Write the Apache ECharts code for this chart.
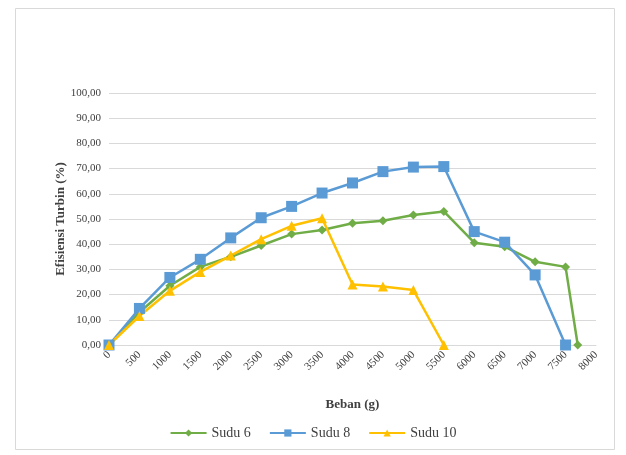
<!DOCTYPE html>
<html>
<head>
<meta charset="utf-8">
<script src="https://cdn.jsdelivr.net/npm/echarts@6/dist/echarts.min.js"></script>
<style>
  html, body { margin: 0; padding: 0; background: #fff; }
  #chart { width: 626px; height: 455px; }
</style>
</head>
<body>
<div id="chart"></div>
<script>
// Load (g) vs turbine efficiency (%) for three blade counts
const loadSudu6 = [0, 500, 1000, 1500, 2000, 2500, 3000, 3500, 4000, 4500, 5000, 5500, 6000, 6500, 7000, 7500, 7700];
const effSudu6  = [0, 13, 23.5, 31, 35, 39.5, 44, 45.6, 48.3, 49.3, 51.6, 53, 40.6, 39, 33, 31, 0];

const loadSudu8 = [0, 500, 1000, 1500, 2000, 2500, 3000, 3500, 4000, 4500, 5000, 5500, 6000, 6500, 7000, 7500];
const effSudu8  = [0, 14.5, 26.8, 34, 42.5, 50.5, 55, 60.3, 64.3, 68.8, 70.6, 70.8, 45, 40.8, 27.8, 0];

const loadSudu10 = [0, 500, 1000, 1500, 2000, 2500, 3000, 3500, 4000, 4500, 5000, 5500];
const effSudu10  = [0, 11.5, 21.5, 29, 35.5, 42, 47.3, 50.3, 24, 23.2, 21.8, 0];

const seriesNames = ['Sudu 6', 'Sudu 8', 'Sudu 10'];
const xTitle = 'Beban (g)';
const yTitle = 'Efisiensi Turbin (%)';

const pairs = (xs, ys) => xs.map((x, i) => [x, ys[i]]);
const serif = '"Liberation Serif", "DejaVu Serif", serif';
const textColor = '#404040';

const chart = echarts.init(document.getElementById('chart'), null, { renderer: 'canvas' });

function lineSeries(name, data, color, symbol, size) {
  return {
    name, type: 'line', data,
    symbol, symbolSize: size,
    lineStyle: { color, width: 2.5 },
    itemStyle: { color },
    emphasis: { disabled: true },
    z: 3
  };
}

chart.setOption({
  animation: false,
  backgroundColor: '#fff',
  graphic: [{
    type: 'rect', left: 13, top: 6, z: -1,
    shape: { width: 599, height: 441 },
    style: { fill: 'none', stroke: '#d9d9d9', lineWidth: 1 }
  }],
  grid: { left: 109, right: 30, top: 93, bottom: 110 },
  legend: {
    bottom: 10, left: 'center',
    itemWidth: 36, itemHeight: 9, itemGap: 18,
    textStyle: { fontFamily: serif, fontSize: 14, color: textColor },
    data: seriesNames
  },
  xAxis: {
    type: 'value', min: 0, max: 8000, interval: 500,
    name: xTitle, nameLocation: 'middle', nameGap: 53,
    nameTextStyle: { fontFamily: serif, fontSize: 13, fontWeight: 'bold', color: textColor },
    axisLine: { show: true, lineStyle: { color: '#d9d9d9' } },
    axisTick: { show: false },
    splitLine: { show: false },
    axisLabel: {
      rotate: 45, margin: 8,
      fontFamily: serif, fontSize: 11, color: textColor,
      formatter: v => String(v)
    }
  },
  yAxis: {
    type: 'value', min: 0, max: 100, interval: 10,
    name: yTitle, nameLocation: 'middle', nameGap: 42,
    nameMoveOverlap: false,
    nameTextStyle: { fontFamily: serif, fontSize: 13, fontWeight: 'bold', color: textColor },
    axisLine: { show: false },
    axisTick: { show: false },
    splitLine: { lineStyle: { color: '#d9d9d9', width: 1 } },
    axisLabel: {
      margin: 8,
      fontFamily: serif, fontSize: 11, color: textColor,
      formatter: v => v.toFixed(2).replace('.', ',')
    }
  },
  series: [
    lineSeries(seriesNames[0], pairs(loadSudu6, effSudu6), '#70AD47', 'diamond', 9),
    lineSeries(seriesNames[1], pairs(loadSudu8, effSudu8), '#5B9BD5', 'rect', 11),
    lineSeries(seriesNames[2], pairs(loadSudu10, effSudu10), '#FFC000', 'triangle', 10)
  ]
});
</script>
</body>
</html>
